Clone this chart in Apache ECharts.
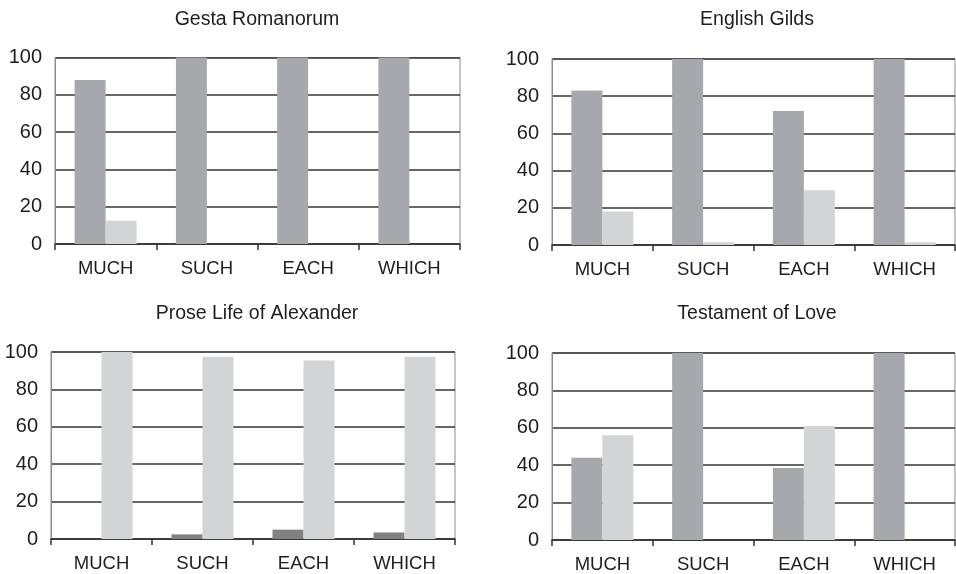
<!DOCTYPE html>
<html>
<head>
<meta charset="utf-8">
<script src="https://cdn.jsdelivr.net/npm/echarts@6/dist/echarts.min.js"></script>
<style>
  html, body { margin: 0; padding: 0; background: #fff; }
  #chart { width: 956px; height: 574px; }
</style>
</head>
<body>
<div id="chart"></div>
<script>
// Word categories shared by all four panels
const categories = ['MUCH', 'SUCH', 'EACH', 'WHICH'];
const yTicks = [0, 20, 40, 60, 80, 100];

// Panel titles
const titles = ['Gesta Romanorum', 'English Gilds', 'Prose Life of Alexander', 'Testament of Love'];

// Percentages per panel: first (darker) series, second (lighter) series
const gestaFirst = [88, 100, 100, 100];
const gestaSecond = [12.5, 0, 0, 0];
const gildsFirst = [83, 100, 72, 100];
const gildsSecond = [18, 1.5, 29.5, 1.5];
const proseFirst = [0, 2.5, 5, 3.5];
const proseSecond = [100, 97.5, 95.5, 97.5];
const testamentFirst = [44, 100, 38.5, 100];
const testamentSecond = [56, 0, 61, 0];

const panels = [
  { first: gestaFirst, second: gestaSecond, firstColor: '#a7a8ac' },
  { first: gildsFirst, second: gildsSecond, firstColor: '#a7a8ac' },
  { first: proseFirst, second: proseSecond, firstColor: '#808185' },
  { first: testamentFirst, second: testamentSecond, firstColor: '#a7a8ac' }
];
const secondColor = '#d3d4d6';

const grids = [
  { left: 55, right: 496, top: 57.5, bottom: 330 },
  { left: 552, right: 1, top: 59, bottom: 329 },
  { left: 51, right: 501, top: 352, bottom: 35 },
  { left: 552, right: 1, top: 353, bottom: 34 }
];
const titlePos = [
  { left: 252, top: 5 },
  { left: 752, top: 5 },
  { left: 252, top: 299 },
  { left: 752, top: 299 }
];

const font = 'Liberation Sans, Arial, Helvetica, sans-serif';

const option = {
  animation: false,
  backgroundColor: '#ffffff',
  textStyle: { fontFamily: font },
  title: titles.map((t, i) => ({
    text: t,
    left: titlePos[i].left,
    top: titlePos[i].top,
    textAlign: 'center',
    textStyle: { fontFamily: font, fontSize: 19.5, fontWeight: 'normal', color: '#1e1e1e' }
  })),
  grid: grids.map(g => Object.assign({ show: true, borderColor: '#8a8a8a', borderWidth: 1, backgroundColor: 'transparent' }, g)),
  xAxis: grids.map((g, i) => ({
    type: 'category',
    gridIndex: i,
    data: categories,
    boundaryGap: true,
    axisLine: { show: true, lineStyle: { color: '#333', width: 1.5 } },
    axisTick: { show: true, inside: false, length: 6, lineStyle: { color: '#333', width: 1.5 } },
    axisLabel: { fontFamily: font, fontSize: 18.5, color: '#1e1e1e', margin: 15 }
  })),
  yAxis: grids.map((g, i) => ({
    type: 'value',
    gridIndex: i,
    min: yTicks[0],
    max: yTicks[yTicks.length - 1],
    interval: yTicks[1] - yTicks[0],
    axisLine: { show: true, lineStyle: { color: '#8a8a8a', width: 1 } },
    axisTick: { show: false },
    splitLine: { show: true, lineStyle: { color: '#333', width: 1.5 } },
    axisLabel: { fontFamily: font, fontSize: 20, color: '#1e1e1e', margin: 13 }
  })),
  series: []
};

panels.forEach((p, i) => {
  option.series.push({
    name: 'Series 1',
    type: 'bar',
    xAxisIndex: i,
    yAxisIndex: i,
    data: p.first,
    barWidth: 31,
    barGap: '0%',
    itemStyle: { color: p.firstColor },
    z: 3
  });
  option.series.push({
    name: 'Series 2',
    type: 'bar',
    xAxisIndex: i,
    yAxisIndex: i,
    data: p.second,
    barWidth: 31,
    barGap: '0%',
    itemStyle: { color: secondColor },
    z: 3
  });
});

const chart = echarts.init(document.getElementById('chart'), null, { renderer: 'canvas' });
chart.setOption(option);
</script>
</body>
</html>
